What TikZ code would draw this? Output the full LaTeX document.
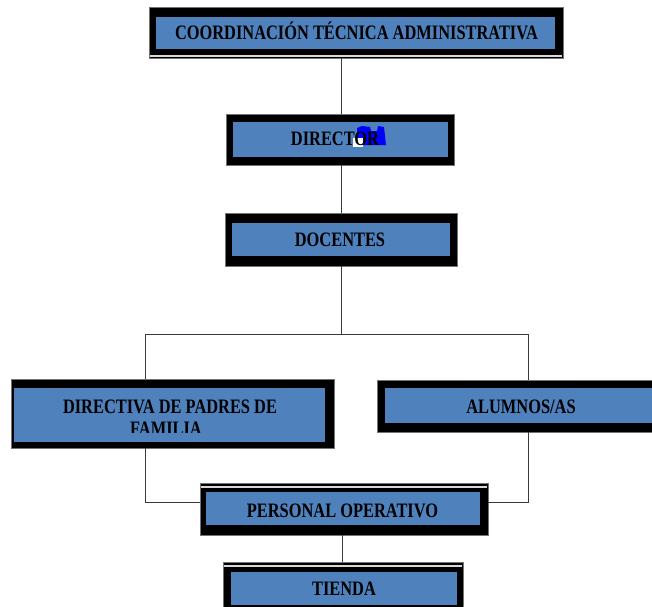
\documentclass[tikz,border=0pt]{standalone}
\usepackage{fontspec}
\newfontfamily\tnr[FakeStretch=0.80]{Liberation Serif}
\definecolor{boxblue}{HTML}{4F81BD}
\definecolor{linegray}{HTML}{3A3A3A}
\tikzset{
  outerbox/.style={rectangle, fill=black, draw=black!55, line width=0.6pt, inner sep=0pt, outer sep=0pt},
  innerbox/.style={rectangle, fill=boxblue, inner sep=0pt, outer sep=0pt},
  boxtext/.style={anchor=base, inner sep=0pt, text=black, font=\tnr\bfseries\fontsize{20.5}{22}\selectfont},
  conn/.style={draw=linegray, line width=1pt},
  whiteline/.style={draw=white!85!black, line width=1.2pt}
}
\begin{document}
\begin{tikzpicture}[x=1pt,y=-1pt]
\clip (0,0) rectangle (652,606);
\fill[white] (0,0) rectangle (652,606);

% COORDINACION
\node[outerbox, minimum width=414pt, minimum height=51pt] (coordo) at (356,32.5) {};
\node[innerbox, minimum width=399pt, minimum height=32pt] (coordi) at (355.5,33) {};
\draw[whiteline] (150,56) -- (562,56);
\node[boxtext] (coordt) at (356.5,39.5) {COORDINACIÓN TÉCNICA ADMINISTRATIVA};

% DIRECTOR
\node[outerbox, minimum width=228pt, minimum height=51pt] (directoro) at (340,139.5) {};
\node[innerbox, minimum width=215pt, minimum height=35pt] (directori) at (340.5,139.5) {};
\fill[blue] (357,128) -- (362,126) -- (370,127) -- (371,131) -- (377,131) -- (378,126) -- (384,127) -- (386,145) -- (357,145) -- cycle;
\fill[white] (353,138) rectangle (363,147);
\node[boxtext] (directort) at (335,145.5) {DIRECTOR};

% DOCENTES
\node[outerbox, minimum width=232pt, minimum height=53pt] (docenteso) at (341,239.5) {};
\node[innerbox, minimum width=218pt, minimum height=33pt] (docentesi) at (341,239.5) {};
\node[boxtext] (docentest) at (340,246.5) {DOCENTES};

% DIRECTIVA
\node[outerbox, minimum width=323pt, minimum height=69pt] (directivao) at (172.5,413.5) {};
\node[innerbox, minimum width=311pt, minimum height=54pt] (directivai) at (169.5,415) {};
\begin{scope}
\clip (14,388) rectangle (325,432);
\node[boxtext] (directivat) at (170,413.5) {DIRECTIVA DE PADRES DE};
\node[boxtext] (directivat2) at (166,435.5) {FAMILIA};
\end{scope}

% ALUMNOS
\node[outerbox, minimum width=283pt, minimum height=52pt] (alumnoso) at (518.5,406) {};
\node[innerbox, minimum width=275pt, minimum height=35pt] (alumnosi) at (522.5,405.5) {};
\node[boxtext] (alumnost) at (521,413.5) {ALUMNOS/AS};

% PERSONAL OPERATIVO
\node[outerbox, minimum width=288pt, minimum height=52pt] (personalo) at (344,509) {};
\node[innerbox, minimum width=274pt, minimum height=33pt] (personali) at (343,508.5) {};
\draw[whiteline] (201,487) -- (487,487);
\node[boxtext] (personalt) at (342.5,517.5) {PERSONAL OPERATIVO};

% TIENDA
\node[outerbox, minimum width=240pt, minimum height=53pt] (tiendao) at (343,588.5) {};
\node[innerbox, minimum width=226pt, minimum height=33pt] (tiendai) at (344,588.5) {};
\draw[whiteline] (224,566) -- (462,566);
\node[boxtext] (tiendat) at (344,595.5) {TIENDA};

% connectors
\coordinate (jl) at (145,334);
\coordinate (jr) at (528,334);
\coordinate (kl) at (145,502);
\coordinate (kr) at (528,502);
\draw[conn] (341,0 |- coordo.south) -- (341,0 |- directoro.north);
\draw[conn] (341,0 |- directoro.south) -- (341,0 |- docenteso.north);
\draw[conn] (341,0 |- docenteso.south) -- (341,334);
\draw[conn] (jl |- directivao.north) -- (jl) -- (jr) -- (jr |- alumnoso.north);
\draw[conn] (kl |- directivao.south) -- (kl) -- (kl -| personalo.west);
\draw[conn] (kr |- alumnoso.south) -- (kr) -- (kr -| personalo.east);
\draw[conn] (342,0 |- personalo.south) -- (342,0 |- tiendao.north);
\end{tikzpicture}
\end{document}
